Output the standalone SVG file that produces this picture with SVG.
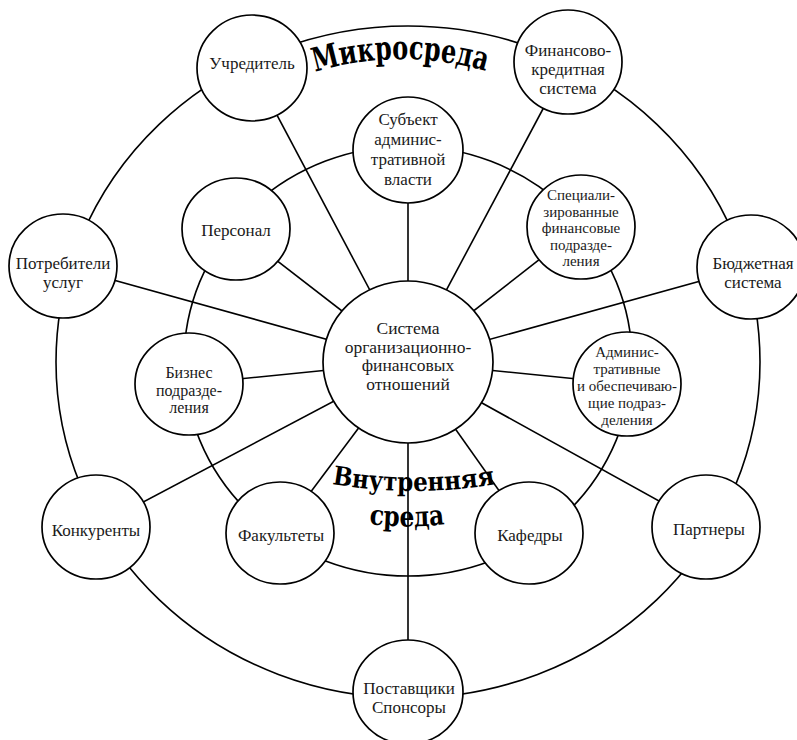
<svg xmlns="http://www.w3.org/2000/svg" xmlns:xlink="http://www.w3.org/1999/xlink" width="797" height="740" viewBox="0 0 797 740">
<style>
  .ring { fill: none; stroke: #000; stroke-width: 1.6; }
  .link { stroke: #000; stroke-width: 1.6; }
  .node { fill: #fff; stroke: #000; stroke-width: 1.7; }
  .t { font-family: "Liberation Serif", "Times New Roman", serif; font-size: 17px; fill: #1a1a1a; text-anchor: middle; }
  .s { font-size: 15px; }
  .m { font-size: 16px; }
  .c { font-size: 17.5px; }
  .h { font-family: "DejaVu Serif", "Liberation Serif", serif; font-weight: bold; fill: #000; }
</style>
<defs>
  <path id="arcMikro" d="M315,72 A300,300 0 0 1 489,72"/>
  <path id="arcVnutr" d="M332,484 A490,490 0 0 0 497,484"/>
  <path id="arcSreda" d="M369,524 A300,300 0 0 0 446,524"/>
</defs>
<rect width="797" height="740" fill="#fff"/>

<g id="rings">
  <ellipse class="ring" cx="408" cy="362" rx="352" ry="336"/>
  <ellipse class="ring" cx="408" cy="361" rx="224" ry="215"/>
</g>

<g id="connectors">
  <line class="link" x1="408" y1="362" x2="252" y2="68"/>
  <line class="link" x1="408" y1="362" x2="568" y2="62"/>
  <line class="link" x1="408" y1="362" x2="63" y2="266"/>
  <line class="link" x1="408" y1="362" x2="751" y2="267"/>
  <line class="link" x1="408" y1="362" x2="96" y2="527"/>
  <line class="link" x1="408" y1="362" x2="706" y2="527"/>
  <line class="link" x1="408" y1="362" x2="408" y2="692"/>
  <line class="link" x1="408" y1="362" x2="408" y2="150"/>
  <line class="link" x1="408" y1="362" x2="236" y2="229"/>
  <line class="link" x1="408" y1="362" x2="581" y2="227"/>
  <line class="link" x1="408" y1="362" x2="189" y2="384"/>
  <line class="link" x1="408" y1="362" x2="627" y2="384"/>
  <line class="link" x1="408" y1="362" x2="280" y2="533"/>
  <line class="link" x1="408" y1="362" x2="529" y2="533"/>
</g>

<g id="center">
  <ellipse class="node" cx="408" cy="362" rx="85" ry="81"/>
  <text class="t c" x="408" y="334">Система</text>
  <text class="t c" x="408" y="352.5">организационно-</text>
  <text class="t c" x="408" y="371">финансовых</text>
  <text class="t c" x="408" y="389.5">отношений</text>
</g>

<g id="uchreditel">
  <ellipse class="node" cx="252" cy="68" rx="55" ry="53"/>
  <text class="t" x="252" y="69">Учредитель</text>
</g>
<g id="finkred">
  <ellipse class="node" cx="568" cy="62" rx="54" ry="52"/>
  <text class="t" x="568" y="56">Финансово-</text>
  <text class="t" x="568" y="75">кредитная</text>
  <text class="t" x="568" y="94">система</text>
</g>
<g id="potrebiteli">
  <ellipse class="node" cx="63" cy="266" rx="54" ry="52"/>
  <text class="t" x="63" y="269">Потребители</text>
  <text class="t" x="63" y="288">услуг</text>
</g>
<g id="budget">
  <ellipse class="node" cx="751" cy="267" rx="54" ry="52"/>
  <text class="t" x="753" y="269">Бюджетная</text>
  <text class="t" x="753" y="288">система</text>
</g>
<g id="konkurenty">
  <ellipse class="node" cx="96" cy="527" rx="54" ry="52"/>
  <text class="t" x="96" y="536">Конкуренты</text>
</g>
<g id="partnery">
  <ellipse class="node" cx="706" cy="527" rx="54" ry="52"/>
  <text class="t" x="709" y="535">Партнеры</text>
</g>
<g id="postavshiki">
  <ellipse class="node" cx="408" cy="692" rx="55" ry="52"/>
  <text class="t" x="409" y="694">Поставщики</text>
  <text class="t" x="409" y="713">Спонсоры</text>
</g>

<g id="subject">
  <ellipse class="node" cx="408" cy="150" rx="55" ry="53"/>
  <text class="t" x="408" y="125">Субъект</text>
  <text class="t" x="408" y="145">админис-</text>
  <text class="t" x="408" y="165">тративной</text>
  <text class="t" x="408" y="185">власти</text>
</g>
<g id="personal">
  <ellipse class="node" cx="236" cy="229" rx="54" ry="51"/>
  <text class="t" x="236" y="236">Персонал</text>
</g>
<g id="specfin">
  <ellipse class="node" cx="581" cy="227" rx="54" ry="52"/>
  <text class="t s" x="581" y="200">Специали-</text>
  <text class="t s" x="581" y="216.5">зированные</text>
  <text class="t s" x="581" y="233">финансовые</text>
  <text class="t s" x="581" y="249.5">подразде-</text>
  <text class="t s" x="581" y="266">ления</text>
</g>
<g id="biznes">
  <ellipse class="node" cx="189" cy="384" rx="54" ry="51"/>
  <text class="t m" x="189" y="378">Бизнес</text>
  <text class="t m" x="189" y="395.5">подразде-</text>
  <text class="t m" x="189" y="413">ления</text>
</g>
<g id="admin">
  <ellipse class="node" cx="627" cy="384" rx="54" ry="52"/>
  <text class="t s" x="627" y="357">Админис-</text>
  <text class="t s" x="627" y="374">тративные</text>
  <text class="t s" x="627" y="391">и обеспечиваю-</text>
  <text class="t s" x="627" y="408">щие подраз-</text>
  <text class="t s" x="627" y="425">деления</text>
</g>
<g id="fakultety">
  <ellipse class="node" cx="280" cy="533" rx="54" ry="51"/>
  <text class="t" x="281" y="541">Факультеты</text>
</g>
<g id="kafedry">
  <ellipse class="node" cx="529" cy="533" rx="54" ry="51"/>
  <text class="t" x="530" y="541">Кафедры</text>
</g>

<g id="labels">
  <text class="h" font-size="33"><textPath xlink:href="#arcMikro" href="#arcMikro" textLength="173" lengthAdjust="spacingAndGlyphs">Микросреда</textPath></text>
  <text class="h" font-size="26"><textPath xlink:href="#arcVnutr" href="#arcVnutr" textLength="164" lengthAdjust="spacingAndGlyphs">Внутренняя</textPath></text>
  <text class="h" font-size="28"><textPath xlink:href="#arcSreda" href="#arcSreda" textLength="76" lengthAdjust="spacingAndGlyphs">среда</textPath></text>
</g>
</svg>
